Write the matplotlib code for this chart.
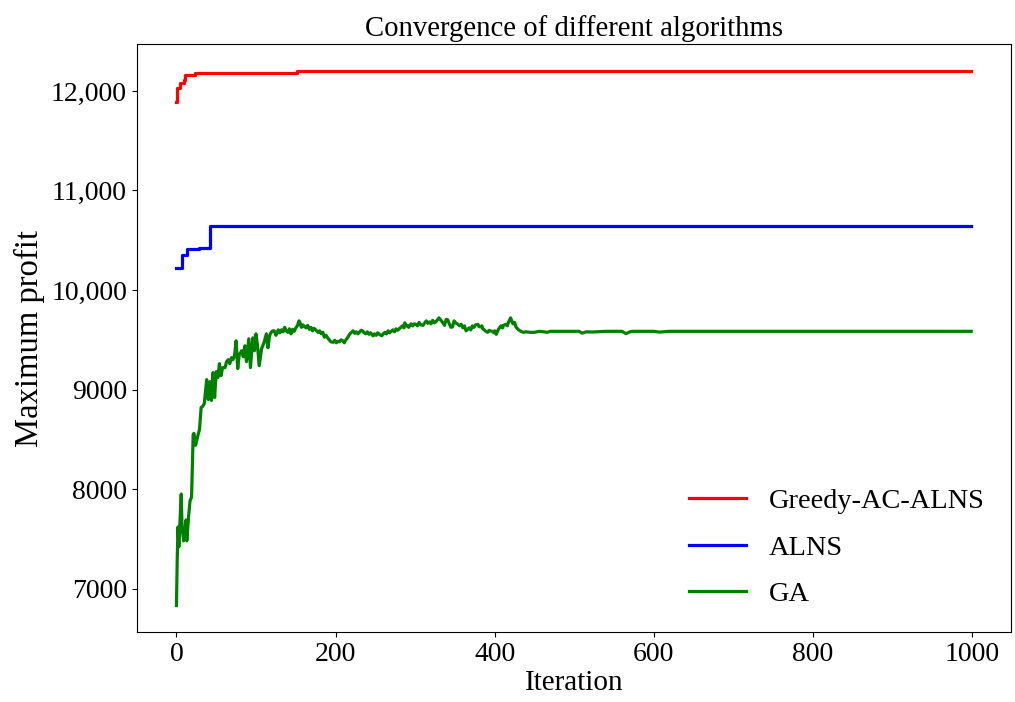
import matplotlib
matplotlib.use("Agg")
import matplotlib.pyplot as plt
from matplotlib.ticker import FuncFormatter

plt.rcParams['font.family'] = ['Liberation Serif', 'DejaVu Serif']

# Greedy-AC-ALNS (step changes)
red_iter = [0, 1, 5, 9, 11, 23, 152, 999]
red_profit = [11890, 12030, 12080, 12110, 12165, 12180, 12200, 12200]

# ALNS (step changes)
blue_iter = [0, 7, 13, 28, 42, 999]
blue_profit = [10225, 10355, 10410, 10425, 10640, 10640]

# GA (rows of 12 so iterations and profits line up)
ga_iter = [0, 1, 2, 3, 4, 6, 7, 9, 12, 13, 15, 17,
           19, 21, 22, 24, 27, 29, 31, 33, 35, 38, 40, 42,
           44, 46, 48, 50, 52, 54, 56, 58, 61, 63, 65, 67,
           69, 71, 73, 75, 77, 79, 82, 84, 86, 88, 91, 93,
           96, 98, 100, 102, 104, 107, 110, 113, 115, 117, 119, 121,
           123, 125, 126, 128, 130, 132, 134, 136, 138, 140, 142, 144,
           146, 148, 150, 152, 154, 155, 157, 159, 160, 163, 165, 167,
           169, 171, 173, 175, 178, 180, 182, 184, 186, 188, 190, 192,
           194, 197, 199, 201, 203, 205, 207, 209, 211, 213, 215, 218,
           220, 222, 224, 226, 228, 230, 232, 234, 236, 238, 240, 242,
           244, 247, 249, 251, 253, 255, 258, 260, 262, 264, 266, 268,
           270, 272, 274, 276, 278, 280, 282, 284, 286, 287, 289, 290,
           292, 293, 295, 297, 299, 301, 303, 305, 307, 310, 312, 314,
           316, 318, 320, 322, 324, 326, 328, 330, 332, 333, 335, 337,
           339, 341, 343, 345, 347, 349, 351, 353, 356, 358, 360, 362,
           364, 366, 368, 370, 372, 374, 376, 379, 380, 382, 384, 385,
           387, 388, 391, 393, 394, 397, 399, 400, 402, 405, 408, 410,
           411, 414, 416, 417, 420, 423, 425, 427, 430, 433, 436, 439,
           445, 450, 456, 462, 466, 470, 480, 490, 506, 510, 515, 523,
           540, 560, 565, 570, 573, 590, 600, 607, 620, 999]
ga_profit = [6830, 7310, 7620, 7420, 7600, 7950, 7620, 7480, 7690, 7480, 7700, 7880,
             7920, 8550, 8560, 8440, 8540, 8600, 8820, 8830, 8860, 9100, 8900, 9080,
             8890, 9170, 8920, 9180, 9120, 9260, 9140, 9220, 9220, 9280, 9300, 9260,
             9320, 9300, 9340, 9490, 9210, 9350, 9390, 9330, 9440, 9280, 9510, 9220,
             9520, 9390, 9560, 9430, 9240, 9410, 9470, 9560, 9420, 9540, 9575, 9590,
             9590, 9545, 9560, 9600, 9570, 9600, 9580, 9625, 9590, 9575, 9610, 9560,
             9605, 9585, 9620, 9640, 9690, 9680, 9625, 9650, 9640, 9620, 9645, 9605,
             9625, 9590, 9615, 9600, 9575, 9590, 9560, 9575, 9525, 9545, 9520, 9500,
             9480, 9475, 9495, 9470, 9485, 9480, 9500, 9490, 9470, 9500, 9520, 9560,
             9575, 9590, 9565, 9580, 9560, 9575, 9595, 9590, 9570, 9560, 9580, 9555,
             9570, 9540, 9560, 9545, 9570, 9555, 9540, 9560, 9575, 9560, 9590, 9570,
             9585, 9600, 9580, 9610, 9595, 9610, 9625, 9640, 9620, 9670, 9640, 9645,
             9625, 9640, 9660, 9640, 9660, 9655, 9640, 9675, 9650, 9645, 9670, 9690,
             9665, 9680, 9660, 9695, 9670, 9680, 9700, 9720, 9700, 9690, 9670, 9645,
             9705, 9700, 9660, 9625, 9630, 9690, 9670, 9660, 9640, 9655, 9620, 9640,
             9590, 9605, 9620, 9600, 9640, 9625, 9650, 9655, 9635, 9630, 9640, 9610,
             9600, 9590, 9575, 9595, 9590, 9585, 9570, 9590, 9555, 9610, 9640, 9620,
             9645, 9655, 9640, 9670, 9720, 9660, 9675, 9625, 9600, 9585, 9575, 9580,
             9575, 9575, 9585, 9580, 9575, 9585, 9585, 9585, 9585, 9567, 9580, 9578,
             9585, 9585, 9562, 9580, 9585, 9585, 9585, 9577, 9585, 9585]

labels = ['Greedy-AC-ALNS', 'ALNS', 'GA']
colors = ['red', 'blue', 'green']

fig = plt.figure(figsize=(10.15, 7.02), dpi=100)
ax = fig.add_axes([0.1347, 0.0993, 0.8613, 0.8376])

ax.plot(red_iter, red_profit, drawstyle='steps-post', color=colors[0], lw=2.3, label=labels[0])
ax.plot(blue_iter, blue_profit, drawstyle='steps-post', color=colors[1], lw=2.3, label=labels[1])
ax.plot(ga_iter, ga_profit, color=colors[2], lw=2.3, label=labels[2])

ax.set_title('Convergence of different algorithms', fontsize=20.7)
ax.set_xlabel('Iteration', fontsize=21, labelpad=2)
ax.set_ylabel('Maximum profit', fontsize=23.5)
ax.yaxis.set_major_formatter(FuncFormatter(lambda v, p: f"{v:,.0f}" if v >= 10000 else f"{v:.0f}"))
ax.tick_params(labelsize=20)
ax.set_xticks([0, 200, 400, 600, 800, 1000])
ax.set_yticks([7000, 8000, 9000, 10000, 11000, 12000])

ax.legend(loc='lower right', frameon=False, fontsize=20.4, labelspacing=0.72,
          bbox_to_anchor=(0.999, 0.0))

fig.savefig('out.png', dpi=100)
